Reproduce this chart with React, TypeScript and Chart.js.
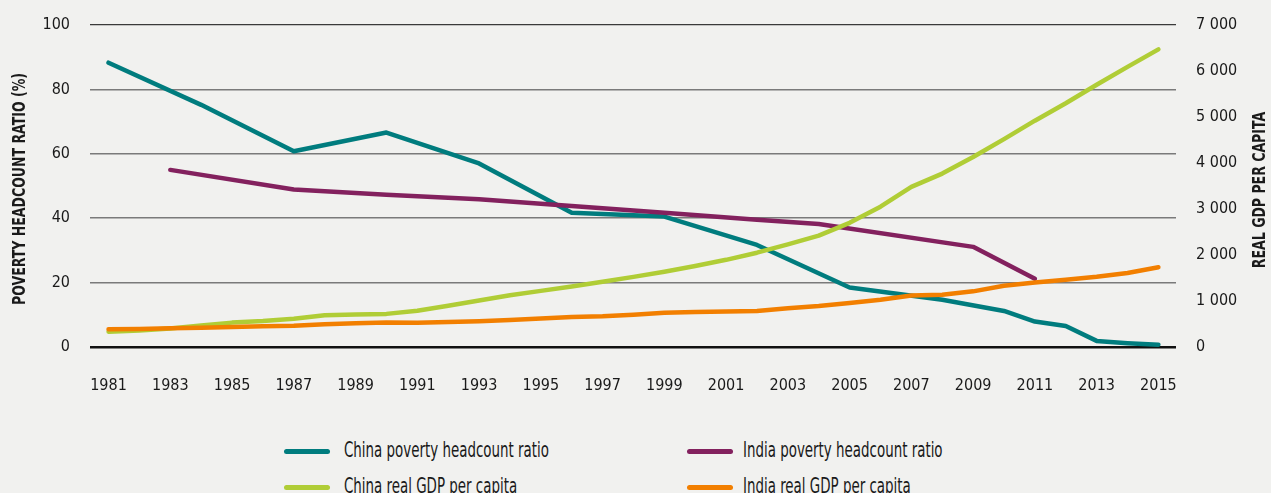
import React, { useEffect, useRef } from "react";
import { Chart, registerables } from "chart.js";

Chart.register(...registerables);

const FONT = "'DejaVu Sans Condensed', 'DejaVu Sans', sans-serif";

const xTickYears = [1981, 1983, 1985, 1987, 1989, 1991, 1993, 1995, 1997, 1999, 2001, 2003, 2005, 2007, 2009, 2011, 2013, 2015];

const chinaPovertyYears = [1981, 1984, 1987, 1990, 1993, 1996, 1999, 2002, 2005, 2008, 2010, 2011, 2012, 2013, 2014, 2015];
const chinaPovertyValues = [88.3, 75.2, 60.8, 66.6, 57.0, 41.7, 40.5, 31.7, 18.5, 14.7, 11.2, 7.9, 6.5, 1.9, 1.2, 0.7];

const indiaPovertyYears = [1983, 1987, 1990, 1993, 1996, 1999, 2002, 2004, 2009, 2011];
const indiaPovertyValues = [55.0, 48.9, 47.3, 45.9, 43.8, 41.7, 39.5, 38.2, 31.1, 21.2];

const gdpYears = [1981, 1982, 1983, 1984, 1985, 1986, 1987, 1988, 1989, 1990, 1991, 1992, 1993, 1994, 1995, 1996, 1997, 1998, 1999, 2000, 2001, 2002, 2003, 2004, 2005, 2006, 2007, 2008, 2009, 2010, 2011, 2012, 2013, 2014, 2015];
const chinaGdpValues = [333, 360, 400, 470, 530, 565, 615, 690, 705, 720, 790, 895, 1010, 1125, 1220, 1315, 1420, 1525, 1637, 1760, 1895, 2050, 2230, 2420, 2700, 3050, 3480, 3770, 4130, 4520, 4920, 5300, 5700, 6090, 6470];
const indiaGdpValues = [385, 392, 410, 420, 436, 450, 462, 494, 515, 532, 527, 545, 560, 587, 618, 652, 668, 700, 746, 760, 772, 785, 840, 890, 955, 1025, 1120, 1135, 1210, 1330, 1400, 1460, 1525, 1610, 1735];

const leftAxisTitle = "POVERTY HEADCOUNT RATIO (%)";
const rightAxisTitle = "REAL GDP PER CAPITA";

const seriesNames = [
  "China poverty headcount ratio",
  "India poverty headcount ratio",
  "China real GDP per capita",
  "India real GDP per capita",
];
const seriesColors = ["#007c7e", "#83215e", "#b0cd36", "#f27f00"];

const toPoints = (xs: number[], ys: number[]) => xs.map((x, i) => ({ x, y: ys[i] }));

const formatThousands = (v: number) => {
  const s = String(Math.round(v));
  return s.replace(/\B(?=(\d{3})+(?!\d))/g, " ");
};

const titlesPlugin = {
  id: "axisTitlesCustom",
  afterDraw(chart: any) {
    const ctx = chart.ctx;
    const draw = (text: string, x: number, y: number) => {
      ctx.save();
      ctx.font = `bold 17px ${FONT}`;
      ctx.fillStyle = "#1a1a1a";
      ctx.textAlign = "center";
      ctx.textBaseline = "middle";
      ctx.translate(x, y);
      ctx.rotate(-Math.PI / 2);
      ctx.scale(0.82, 1);
      ctx.fillText(text, 0, 0);
      ctx.restore();
    };
    draw(leftAxisTitle, 21, 189);
    draw(rightAxisTitle, 1261, 190);
  },
};

export default function App() {
  const canvasRef = useRef<HTMLCanvasElement | null>(null);

  useEffect(() => {
    if (!canvasRef.current) return;
    const lineBase = {
      pointRadius: 0,
      pointHoverRadius: 0,
      borderWidth: 4.5,
      borderCapStyle: "round" as const,
      borderJoinStyle: "round" as const,
      tension: 0,
      fill: false,
    };
    const tickFont = { family: FONT, size: 16 };
    const chart = new Chart(canvasRef.current, {
      type: "line",
      data: {
        datasets: [
          { ...lineBase, label: seriesNames[0], data: toPoints(chinaPovertyYears, chinaPovertyValues), borderColor: seriesColors[0], yAxisID: "y", order: 4 },
          { ...lineBase, label: seriesNames[1], data: toPoints(indiaPovertyYears, indiaPovertyValues), borderColor: seriesColors[1], yAxisID: "y", order: 3 },
          { ...lineBase, label: seriesNames[2], data: toPoints(gdpYears, chinaGdpValues), borderColor: seriesColors[2], yAxisID: "y1", order: 2 },
          { ...lineBase, label: seriesNames[3], data: toPoints(gdpYears, indiaGdpValues), borderColor: seriesColors[3], yAxisID: "y1", order: 1 },
        ],
      },
      options: {
        animation: false,
        responsive: false,
        maintainAspectRatio: false,
        devicePixelRatio: 1,
        layout: { padding: { top: 25, left: 0, right: 0, bottom: 0 } },
        plugins: {
          legend: { display: false },
          tooltip: { enabled: false },
        },
        scales: {
          x: {
            type: "linear",
            min: 1980.4,
            max: 2015.57,
            grid: { display: false },
            border: { display: false },
            afterBuildTicks: (scale: any) => {
              scale.ticks = xTickYears.map((v) => ({ value: v }));
            },
            afterFit: (scale: any) => {
              scale.height = 53;
            },
            ticks: {
              autoSkip: false,
              maxRotation: 0,
              padding: 21,
              color: "#1a1a1a",
              font: tickFont,
              callback: (v: any) => String(v),
            },
          },
          y: {
            position: "left",
            min: 0,
            max: 100,
            afterFit: (scale: any) => {
              scale.width = 90;
            },
            border: { display: false },
            grid: {
              drawTicks: true,
              tickLength: 12,
              tickColor: "rgba(0,0,0,0)",
              color: (c: any) => (c.tick && c.tick.value === 0 ? "#111111" : c.tick && c.tick.value === 100 ? "#3a3a3a" : "#7a7a7a"),
              lineWidth: (c: any) => (c.tick && c.tick.value === 0 ? 2.5 : c.tick && c.tick.value === 100 ? 1.2 : 1.6),
            },
            ticks: {
              stepSize: 20,
              padding: 8,
              color: "#1a1a1a",
              font: tickFont,
            },
          },
          y1: {
            position: "right",
            min: 0,
            max: 7000,
            afterFit: (scale: any) => {
              scale.width = 95;
            },
            border: { display: false },
            grid: {
              display: true,
              drawOnChartArea: false,
              drawTicks: true,
              tickLength: 12,
              tickColor: "rgba(0,0,0,0)",
              color: "rgba(0,0,0,0)",
            },
            ticks: {
              stepSize: 1000,
              padding: 8,
              color: "#1a1a1a",
              font: tickFont,
              callback: (v: any) => formatThousands(Number(v)),
            },
          },
        },
      },
      plugins: [titlesPlugin],
    });
    return () => chart.destroy();
  }, []);

  const legendItems = [
    { name: seriesNames[0], color: seriesColors[0], lineX: 284, textX: 344, y: 451 },
    { name: seriesNames[1], color: seriesColors[1], lineX: 687, textX: 743, y: 451 },
    { name: seriesNames[2], color: seriesColors[2], lineX: 284, textX: 344, y: 487 },
    { name: seriesNames[3], color: seriesColors[3], lineX: 687, textX: 743, y: 487 },
  ];

  return (
    <div
      style={{
        position: "absolute",
        left: 0,
        top: 0,
        width: 1271,
        height: 493,
        background: "#f1f1ef",
        overflow: "hidden",
      }}
    >
      <canvas ref={canvasRef} width={1271} height={400} style={{ display: "block", width: 1271, height: 400 }} />
      {legendItems.map((it) => (
        <React.Fragment key={it.name}>
          <div
            style={{
              position: "absolute",
              left: it.lineX,
              top: it.y - 2.5,
              width: 46,
              height: 5,
              borderRadius: 3,
              background: it.color,
            }}
          />
          <div
            style={{
              position: "absolute",
              left: it.textX,
              top: it.y - 16,
              height: 30,
              lineHeight: "30px",
              fontFamily: FONT,
              fontSize: 21,
              color: "#1a1a1a",
              whiteSpace: "nowrap",
              transform: "scaleX(0.71)",
              transformOrigin: "left center",
            }}
          >
            {it.name}
          </div>
        </React.Fragment>
      ))}
    </div>
  );
}
